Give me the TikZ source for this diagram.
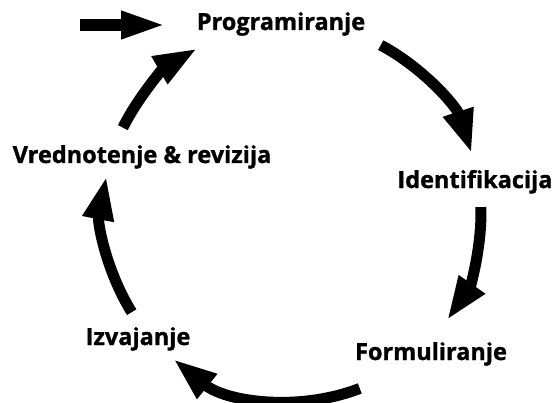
\documentclass[tikz,border=0pt]{standalone}
\usepackage{fontspec}
\setmainfont{Open Sans}[BoldFeatures={FakeBold=1.2}]
\usetikzlibrary{arrows.meta}
\begin{document}
\begin{tikzpicture}[x=1pt,y=1pt,
  lbl/.style={font=\fontsize{23.5}{28}\selectfont\bfseries, inner sep=0pt, anchor=base},
  cyc/.style={line width=11pt, -{Triangle[length=44pt,width=29pt]}},
  straightarr/.style={line width=12pt, -{Triangle[length=46pt,width=25pt]}}]
\useasboundingbox (0,0) rectangle (556,402);
\coordinate (c) at (292,190);
% labels
\node[lbl] (prog) at (281,372) {Programiranje};
\node[lbl] (ident) at (475,214) {Identifikacija};
\node[lbl] (form) at (431,42) {Formuliranje};
\node[lbl] (izv) at (138,57) {Izvajanje};
\node[lbl] (vred) at (142,239) {Vrednotenje \& revizija};
% arc start points
\coordinate (a1) at ([shift={(c)}]62:189);
\coordinate (a2) at ([shift={(c)}]1.5:189);
\coordinate (a3) at ([shift={(c)}]-69:189);
\coordinate (a4) at ([shift={(c)}]212:189);
\coordinate (a5) at ([shift={(c)}]153.5:189);
\draw[cyc] (a1) arc[start angle=62, end angle=18, radius=189];
\draw[cyc] (a2) arc[start angle=1.5, end angle=-35, radius=189];
\draw[cyc] (a3) arc[start angle=-69, end angle=-129, radius=189];
\draw[cyc] (a4) arc[start angle=212, end angle=169, radius=189];
\draw[cyc] (a5) arc[start angle=153.5, end angle=120, radius=189];
% straight entry arrow
\coordinate (s) at (80,377);
\coordinate (e) at (167,377);
\draw[straightarr] (s) -- (e);
\end{tikzpicture}
\end{document}
